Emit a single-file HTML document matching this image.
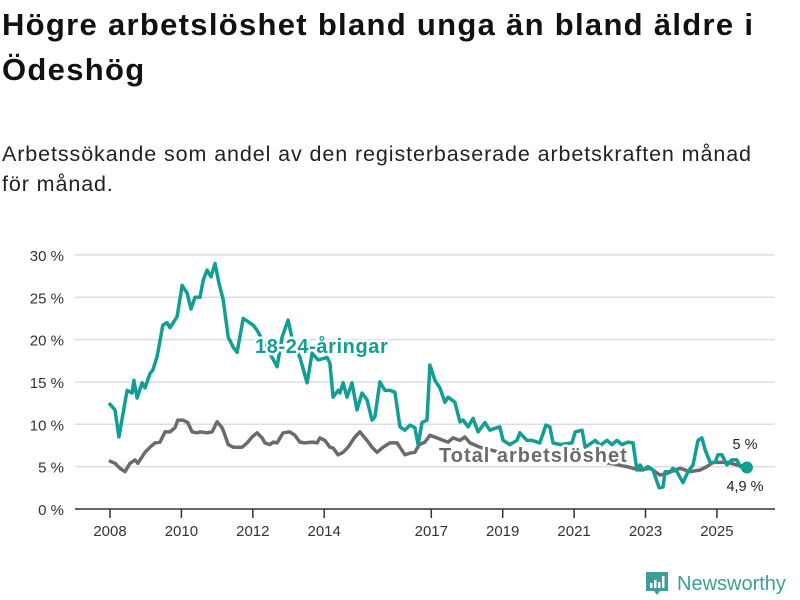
<!DOCTYPE html>
<html><head><meta charset="utf-8"><style>
body{margin:0;background:#fff;font-family:"Liberation Sans",sans-serif;}
#wrap{position:relative;width:800px;height:600px;overflow:hidden;}
h1{position:absolute;left:2px;top:2px;margin:0;font-size:31px;line-height:45px;font-weight:bold;color:#111;width:800px;letter-spacing:1.3px;white-space:nowrap;}
p.sub{position:absolute;left:2px;top:139px;margin:0;font-size:21.5px;line-height:30px;color:#222;width:800px;letter-spacing:0.9px;white-space:nowrap;}
</style></head><body>
<div id="wrap">
<h1>Högre arbetslöshet bland unga än bland äldre i<br>Ödeshög</h1>
<p class="sub">Arbetssökande som andel av den registerbaserade arbetskraften månad<br>för månad.</p>
<svg id="chart" width="800" height="600" style="position:absolute;left:0;top:0"></svg>
</div>
<script>
const yTicks=[0,5,10,15,20,25,30];
const yTickLabels=["0 %","5 %","10 %","15 %","20 %","25 %","30 %"];
const xTicks=[2008,2010,2012,2014,2017,2019,2021,2023,2025];
const youthT=[-.03,.14,.25,.48,.62,.67,.76,.90,.98,1.12,1.20,1.32,1.48,1.60,1.68,1.88,2.02,2.16,2.27,2.38,2.52,2.61,2.72,2.83,2.94,3.05,3.17,3.31,3.45,3.56,3.73,3.87,4.01,4.12,4.40,4.68,4.82,4.99,5.13,5.32,5.52,5.66,5.83,6.08,6.16,6.25,6.39,6.44,6.53,6.64,6.78,6.92,7.06,7.20,7.34,7.42,7.56,7.70,7.84,7.98,8.12,8.26,8.40,8.54,8.63,8.74,8.88,8.96,9.10,9.24,9.38,9.47,9.66,9.80,9.89,10.03,10.17,10.31,10.50,10.64,10.84,10.92,11.01,11.20,11.40,11.48,11.68,11.82,12.04,12.21,12.32,12.41,12.61,12.94,13.03,13.22,13.31,13.59,13.73,13.92,14.06,14.20,14.34,14.51,14.65,14.76,14.85,14.93,15.07,15.21,15.38,15.49,15.55,15.69,15.77,15.88,16.05,16.19,16.33,16.47,16.58,16.67,16.81,16.95,17.03,17.14,17.28,17.42,17.56,17.65,17.84];
const youthV=[12.5,11.7,8.5,14,13.7,15.2,13.1,14.9,14.3,16,16.4,18,21.7,22,21.4,22.7,26.4,25.5,23.6,25,25,27,28.2,27.4,29,26.7,24.7,20.3,19.1,18.5,22.5,22.1,21.7,21.1,19,16.8,20.3,22.3,19.6,17.9,14.9,18.4,17.6,17.9,17.2,13.2,14,13.7,14.9,13.2,14.9,11.7,13.7,12.9,10.5,10.9,15,14,14,13.8,9.7,9.3,9.9,9.6,7.6,10.2,10.5,17,15.2,14.3,12.6,13.2,12.6,10.3,10.5,9.7,10.7,9.1,10.2,9.3,9.6,9.7,8.1,7.6,8.1,9,8.1,8.1,7.8,9.9,9.7,7.8,7.6,7.8,9.1,9.3,7.3,8.1,7.5,8.1,7.6,8.1,7.6,7.9,7.8,4.6,5.2,4.6,5,4.6,2.5,2.6,4.4,4.4,4.8,4.4,3.1,4.4,5.2,8.1,8.4,7,5.5,5.5,6.4,6.4,5.2,5.8,5.8,5,4.9];
const totalT=[-.03,.14,.28,.42,.56,.70,.78,.98,1.12,1.26,1.40,1.54,1.68,1.82,1.90,2.04,2.18,2.30,2.44,2.52,2.72,2.86,3.00,3.14,3.22,3.31,3.45,3.59,3.70,3.84,3.98,4.12,4.26,4.34,4.48,4.57,4.68,4.85,5.04,5.18,5.32,5.46,5.66,5.80,5.88,6.02,6.16,6.25,6.39,6.53,6.67,6.86,7.00,7.20,7.34,7.48,7.65,7.84,8.04,8.12,8.26,8.40,8.54,8.66,8.82,8.96,9.16,9.33,9.47,9.61,9.80,9.94,10.08,10.36,10.92,11.48,12.32,13.17,14.01,14.48,14.65,14.85,15.13,15.41,15.60,15.97,16.25,16.53,16.72,16.89,17.08,17.31,17.56,17.84];
const totalV=[5.7,5.4,4.8,4.4,5.4,5.8,5.4,6.7,7.3,7.8,7.9,9.1,9.1,9.6,10.5,10.5,10.2,9.1,9,9.1,9,9.1,10.3,9.6,8.7,7.6,7.3,7.3,7.3,7.8,8.5,9,8.4,7.8,7.6,7.9,7.8,9,9.1,8.7,7.9,7.8,7.9,7.8,8.4,8.1,7.3,7.2,6.4,6.7,7.3,8.5,9.1,8.1,7.3,6.7,7.3,7.8,7.8,7.3,6.4,6.6,6.7,7.6,7.9,8.7,8.4,8.1,7.9,8.4,8.1,8.5,7.8,7.3,6.7,6.4,6,5.8,5.4,5,4.8,4.6,4.8,4,4.2,4.8,4.4,4.6,5,5.5,5.5,5.5,5.2,5];
const svg=document.getElementById('chart');const NS='http://www.w3.org/2000/svg';
const X=t=>110+t*35.7; const XY=y=>X(y-2008); const Y=v=>509-v*8.47;
function mk(tag,attrs,parent){const e=document.createElementNS(NS,tag);for(const k in attrs)e.setAttribute(k,attrs[k]);(parent||svg).appendChild(e);return e;}
yTicks.forEach((v,i)=>{
 if(v>0){const g=mk('line',{x1:75,x2:775,y1:Y(v),y2:Y(v),stroke:'#ddd','stroke-width':1.5});
 
 }
 const t=mk('text',{x:64,y:Y(v)+6,'text-anchor':'end','font-size':15,fill:'#333'});t.textContent=yTickLabels[i];
 
 
});
const ax=mk('line',{x1:75,x2:775,y1:509,y2:509,stroke:'#333','stroke-width':1.5});


xTicks.forEach(yr=>{
 const l=mk('line',{x1:XY(yr),x2:XY(yr),y1:509,y2:518,stroke:'#333','stroke-width':1.5});
 
 
 const t=mk('text',{x:XY(yr),y:536,'text-anchor':'middle','font-size':15,fill:'#333'});t.textContent=yr;
 
 
});
function path(T,V){return T.map((t,i)=>(i?'L':'M')+X(t).toFixed(1)+','+Y(V[i]).toFixed(1)).join('');}
const pt=mk('path',{d:path(totalT,totalV),fill:'none',stroke:'#6d6a6f','stroke-width':3.5,'stroke-linejoin':'round'});


const py=mk('path',{d:path(youthT,youthV),fill:'none',stroke:'#129e94','stroke-width':3.5,'stroke-linejoin':'round'});


function lbl(x,y,txt,col,anchor,size,bold,ls){
 const t=mk('text',{x:x,y:y,'text-anchor':anchor,'font-size':size,'font-weight':bold?'bold':'normal','letter-spacing':ls,fill:col,stroke:'#fff','stroke-width':bold?5:4,'paint-order':'stroke','stroke-linejoin':'round'});t.textContent=txt;return t;}
const l1=lbl(255,353,'18-24-åringar','#129e94','start',20,true,0.6);


const l2=lbl(439,462,'Total arbetslöshet','#6d6a6f','start',20,true,1);


const l3=lbl(745,449,'5 %','#222','middle',14.5,false,0);


const l4=lbl(745,491,'4,9 %','#222','middle',14.5,false,0);


const dot=mk('circle',{cx:X(youthT[youthT.length-1]),cy:Y(youthV[youthV.length-1]),r:6,fill:'#129e94'});


const logo=mk('g',{});


mk('path',{d:'M646,572 h22 v19 h-8 l-3,4 l-3,-4 h-8 z',fill:'#3e9e97'},logo);
mk('rect',{x:650,y:583,width:2.5,height:5,fill:'#fff'},logo);
mk('rect',{x:654,y:580,width:2.5,height:8,fill:'#fff'},logo);
mk('rect',{x:658,y:582,width:2.5,height:6,fill:'#fff'},logo);
mk('rect',{x:662,y:576,width:2.5,height:12,fill:'#fff'},logo);
const lt=mk('text',{x:677,y:590,'font-size':20,fill:'#3e9e97'},logo);lt.textContent='Newsworthy';
</script>
</body></html>
